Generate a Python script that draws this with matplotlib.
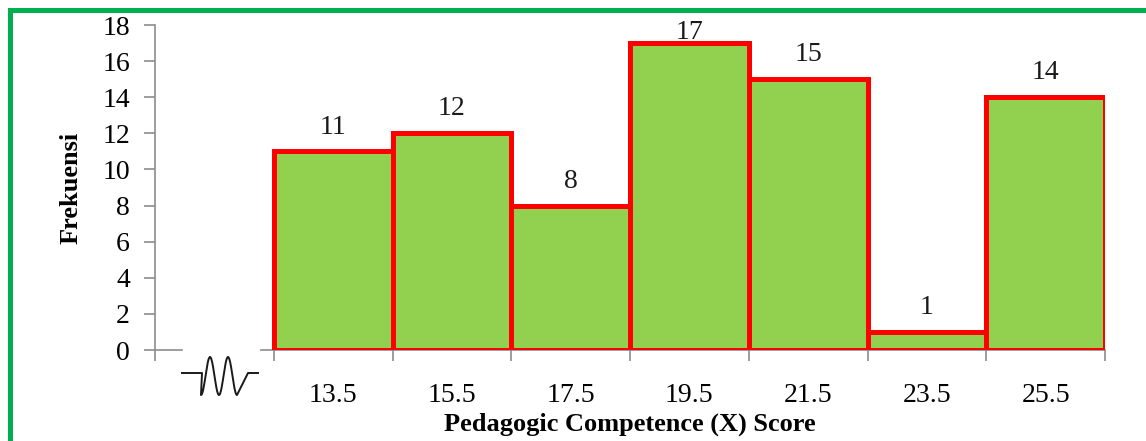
import numpy as np
import matplotlib
matplotlib.use("Agg")
import matplotlib.pyplot as plt
from matplotlib.patches import Rectangle

# datos del histograma
centros = [13.5, 15.5, 17.5, 19.5, 21.5, 23.5, 25.5]
frecuencias = [11, 12, 8, 17, 15, 1, 14]
etiquetas = ["13.5", "15.5", "17.5", "19.5", "21.5", "23.5", "25.5"]
bordes = [12.5, 14.5, 16.5, 18.5, 20.5, 22.5, 24.5, 26.5]

plt.rcParams['font.family'] = ['Liberation Serif', 'DejaVu Serif']
gris = '#8c8c8c'

fig = plt.figure(figsize=(11.46, 4.41), dpi=100)
ax = fig.add_axes([155/1146, 1 - 350/441, (1105 - 155)/1146, 325/441])

ax.bar(centros, frecuencias, width=2, color='#92D050', edgecolor='#FF0000',
       linewidth=3.6, zorder=3)

# etiquetas de valor sobre cada barra
for c, f in zip(centros, frecuencias):
    ax.text(c, min(f + 1.35, 17.6), str(f), ha='center', va='center',
            fontsize=20, color='#1a1a1a', zorder=4)

ax.set_xlim(10.5, 26.5)
ax.set_ylim(0, 18)
ax.set_yticks(range(0, 19, 2))
ax.tick_params(axis='y', direction='out', length=8, color=gris, width=1.2,
               labelsize=20, pad=10)

# ticks de x en los bordes, etiquetas en los centros
ax.set_xticks([10.5] + bordes)
ax.set_xticklabels([])
ax.set_xticks(centros, minor=True)
ax.set_xticklabels(etiquetas, minor=True)
ax.tick_params(axis='x', which='major', direction='out', length=8, color=gris, width=1.2)
ax.tick_params(axis='x', which='minor', length=0, labelsize=20, pad=24)

for s in ['top', 'right', 'bottom']:
    ax.spines[s].set_visible(False)
ax.spines['left'].set_color(gris)
ax.spines['left'].set_linewidth(1.2)

# eje x cortado
ax.plot([10.5, 10.96], [0, 0], color=gris, lw=1.2, clip_on=False, zorder=2)
ax.plot([12.28, 26.5], [0, 0], color=gris, lw=1.2, clip_on=False, zorder=2)

# simbolo de corte (zigzag) en pixeles de la figura
px = lambda x: x / 1146
py = lambda y: 1 - y / 441
t = np.linspace(0, 1, 200)
zx = 201 + 36 * t
zy = 376 + 19 * np.cos(2 * np.pi * 2 * t)
xs = np.concatenate([[182, 202], zx, [248, 258]])
ys = np.concatenate([[373, 373], zy, [373, 373]])
fig.add_artist(plt.Line2D(px(xs), py(ys), transform=fig.transFigure,
                          color='#1a1a1a', lw=1.4))

ax.set_ylabel('Frekuensi', fontsize=19, fontweight='bold', labelpad=14)
ax.set_xlabel('Pedagogic Competence (X) Score', fontsize=19, fontweight='bold',
              labelpad=3)

# marco verde
fig.add_artist(Rectangle((px(10), py(460)), 1.2, (460 - 10) / 441,
                         transform=fig.transFigure, fill=False,
                         edgecolor='#00B050', linewidth=3.6))

fig.savefig('out.png', dpi=100)
